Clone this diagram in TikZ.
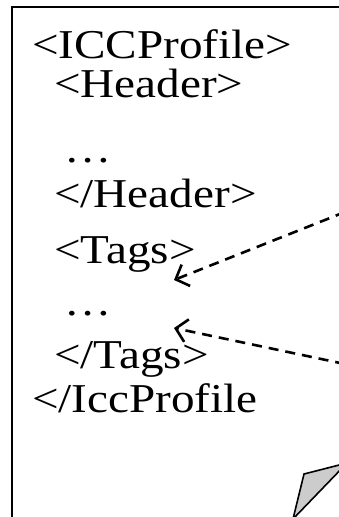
\documentclass[tikz,border=0pt]{standalone}
\usepackage{fontspec}
\setmainfont{Liberation Serif}[FakeStretch=1.15]
\usetikzlibrary{arrows.meta}

\begin{document}
\begin{tikzpicture}[x=1pt,y=-1pt,
    line/.style={anchor=base west, inner sep=0pt, font=\fontsize{41}{41}\selectfont},
    link/.style={dash pattern=on 10pt off 7pt, line width=2.6pt, -{Straight Barb[length=11pt,width=23pt,line width=2.6pt]}}]
        \useasboundingbox (0,0) rectangle (339,517);
        \clip (0,0) rectangle (339,517);
        % page frame
        \draw[line width=1.6pt] (12,530) -- (12,7) -- (350,7);
        % xml lines
        \node[line] (icc) at (32,58) {<ICCProfile>};
        \node[line] (hdr) at (54,97) {<Header>};
        \node[line] (hdots) at (64,162) {…};
        \node[line] (hdrend) at (54,207) {</Header>};
        \node[line] (tags) at (54,263) {<Tags>};
        \node[line] (tdots) at (64,315) {…};
        \node[line] (tagsend) at (54,368) {</Tags>};
        \node[line] (iccend) at (32,412) {</IccProfile};
        % arrows coming from the right
        \coordinate (A) at (345,212);
        \coordinate (B) at (345,364);
        \coordinate (tagsin) at (174,280);
        \coordinate (tagsout) at (174,328);
        \draw[link] (A) -- (tagsin);
        \draw[link] (B) -- (tagsout);
        % folded corner
        \draw[line width=1.6pt, fill=black!20] (293,519) -- (304,474) -- (347,463) -- cycle;
    \end{tikzpicture}
\end{document}
